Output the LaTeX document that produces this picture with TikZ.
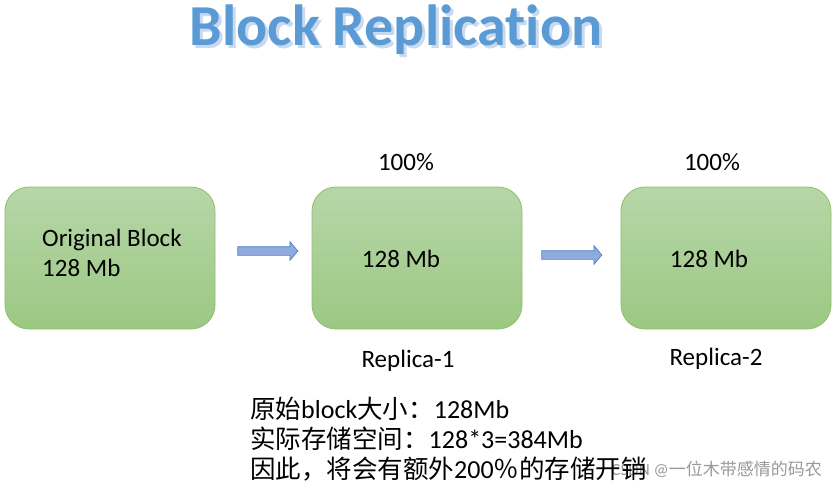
\documentclass[tikz,border=0pt]{standalone}
\usepackage{fontspec}
\setmainfont{Carlito}[Ligatures=NoCommon]
\newfontfamily\cjk{Noto Sans CJK SC}
\usetikzlibrary{shapes.arrows}
\definecolor{boxtop}{HTML}{B7D6A8}
\definecolor{boxbot}{HTML}{9CC883}
\definecolor{boxline}{HTML}{8DC06B}
\definecolor{arrfill}{HTML}{8FAADC}
\definecolor{arrline}{HTML}{4F7FC9}
\definecolor{titleblue}{HTML}{5B9BD5}
\definecolor{titleshadow}{HTML}{C9D9EE}
\newcommand{\cj}[1]{{\cjk\fontsize{25.5}{30}\selectfont #1}}
\tikzset{
  block/.style={draw=boxline, line width=0.8pt, rounded corners=24pt,
    top color=boxtop, bottom color=boxbot, minimum width=210pt, minimum height=142pt},
  lbl/.style={font=\fontsize{25}{30}\selectfont, text=black, inner sep=0pt},
  flow/.style={single arrow, draw=arrline, fill=arrfill, line width=0.7pt,
    minimum height=60pt, inner xsep=0pt, inner ysep=4pt,
    single arrow head extend=5pt, single arrow tip angle=100},
  note/.style={font=\fontsize{26}{30}\selectfont, anchor=base west, inner sep=0pt},
  ttl/.style={font=\fontsize{58}{66}\selectfont\bfseries, anchor=base, inner sep=0pt},
}
\begin{document}
\begin{tikzpicture}[x=1pt,y=-1pt]
\useasboundingbox[fill=white] (0,0) rectangle (837,488);
% title
\node[ttl, text=titleshadow] (titleshadow) at (399,48) {Block Replication};
\node[ttl, text=titleblue] (title) at (396,45) {Block Replication};
% blocks
\node[block] (b1) at (110,258) {};
\node[block] (b2) at (417,258) {};
\node[block] (b3) at (726,258) {};
\node[lbl, anchor=west] (t1a) at (42,240) {Original Block};
\node[lbl, anchor=west] (t1b) at (42,268) {128 Mb};
\node[lbl] (t2) at (401,259) {128 Mb};
\node[lbl] (t3) at (709,259) {128 Mb};
\node[lbl] (p2) at (406,162) {100\%};
\node[lbl] (p3) at (712,162) {100\%};
\node[lbl] (r2) at (408,361) {Replica-1};
\node[lbl] (r3) at (716,359) {Replica-2};
% arrows
\node[flow] (a1) at (266,251) {};
\node[flow] (a2) at (570,255) {};
% watermark
\node[font=\fontsize{17}{20}\selectfont, text=black!40, anchor=east, inner sep=0pt] (wm) at (822,469) {CSDN @{\cjk 一位木带感情的码农}};
% notes
\node[note] (n1) at (250,418) {\cj{原始}block\cj{大小：}128Mb};
\node[note] (n2) at (250,448) {\cj{实际存储空间：}128*3=384Mb};
\node[note] (n3) at (250,478) {\cj{因此，将会有额外}200\cj{％的存储开销}};
\end{tikzpicture}
\end{document}
